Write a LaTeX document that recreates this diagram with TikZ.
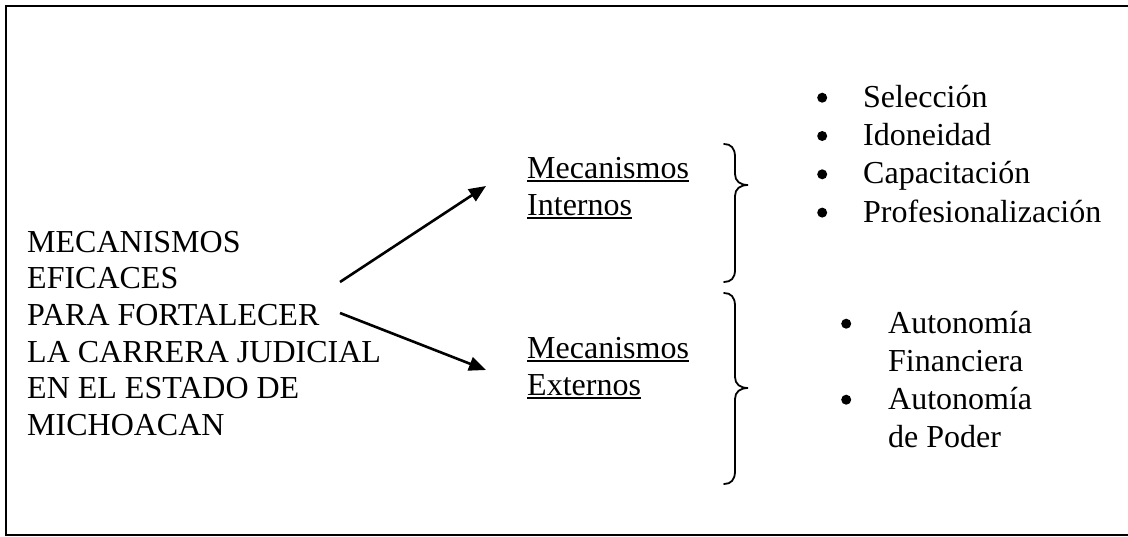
\documentclass[tikz,border=0pt]{standalone}
\usepackage{fontspec}
\setmainfont{Liberation Serif}
\usetikzlibrary{arrows.meta}
\newcommand\myul[1]{\setbox0\hbox{#1}\rlap{\rule[-4pt]{\wd0}{2pt}}\box0}
\newcommand\firststrut{\rule{0pt}{25pt}}
\newcommand\mybul[1]{\makebox[#1][l]{\tikz[baseline=0pt]\fill (5pt,0pt) circle (0pt) (5pt,9.5pt) circle (5pt);}}
\tikzset{
  txt/.style={inner sep=0pt, anchor=north west, align=left, font=\fontsize{32}{36.6}\selectfont},
  arr/.style={line width=2.6pt, -{Triangle[length=17pt,width=14pt]}},
  brace/.style={line width=1.8pt, line cap=round},
  frame/.style={line width=2pt}
}
\begin{document}
\begin{tikzpicture}[x=1pt,y=-1pt]
\useasboundingbox (0,0) rectangle (1128,536);
\draw[frame] (6,6) rectangle (1140,534.5);
% main text
\node[txt] (main) at (27,227) {\firststrut MECANISMOS\\EFICACES\\PARA FORTALECER\\LA CARRERA JUDICIAL\\EN EL ESTADO DE\\MICHOACAN};
% mechanisms
\node[txt, font=\fontsize{32}{37}\selectfont] (int) at (527,153) {\firststrut\myul{Mecanismos}\\\myul{Internos}};
\node[txt, font=\fontsize{32}{37}\selectfont] (ext) at (527,333) {\firststrut\myul{Mecanismos}\\\myul{Externos}};
% arrows
\coordinate (a1s) at (340,282);
\coordinate (a1e) at (486,186);
\coordinate (a2s) at (340,313);
\coordinate (a2e) at (486,370);
\draw[arr] (a1s) -- (a1e);
\draw[arr] (a2s) -- (a2e);
% braces
\draw[brace] (724,144) .. controls (731,144) and (735,148) .. (735,157) -- (735,174) .. controls (735,181) and (740,185) .. (748,185) .. controls (740,185) and (735,189) .. (735,196) -- (735,270) .. controls (735,278) and (731,282) .. (724,282);
\draw[brace] (724,293) .. controls (731,293) and (735,297) .. (735,306) -- (735,377) .. controls (735,384) and (740,388) .. (748,388) .. controls (740,388) and (735,392) .. (735,399) -- (735,471) .. controls (735,480) and (731,484) .. (724,484);
% lists
\node[txt, font=\fontsize{32}{38.3}\selectfont] (list1) at (817,82) {\firststrut\mybul{46pt}Selección\\\mybul{46pt}Idoneidad\\\mybul{46pt}Capacitación\\\mybul{46pt}Profesionalización};
\node[txt, font=\fontsize{32}{38}\selectfont] (list2) at (841,308) {\firststrut\mybul{47pt}Autonomía\\\hspace*{47pt}Financiera\\\mybul{47pt}Autonomía\\\hspace*{47pt}de Poder};
\end{tikzpicture}
\end{document}
